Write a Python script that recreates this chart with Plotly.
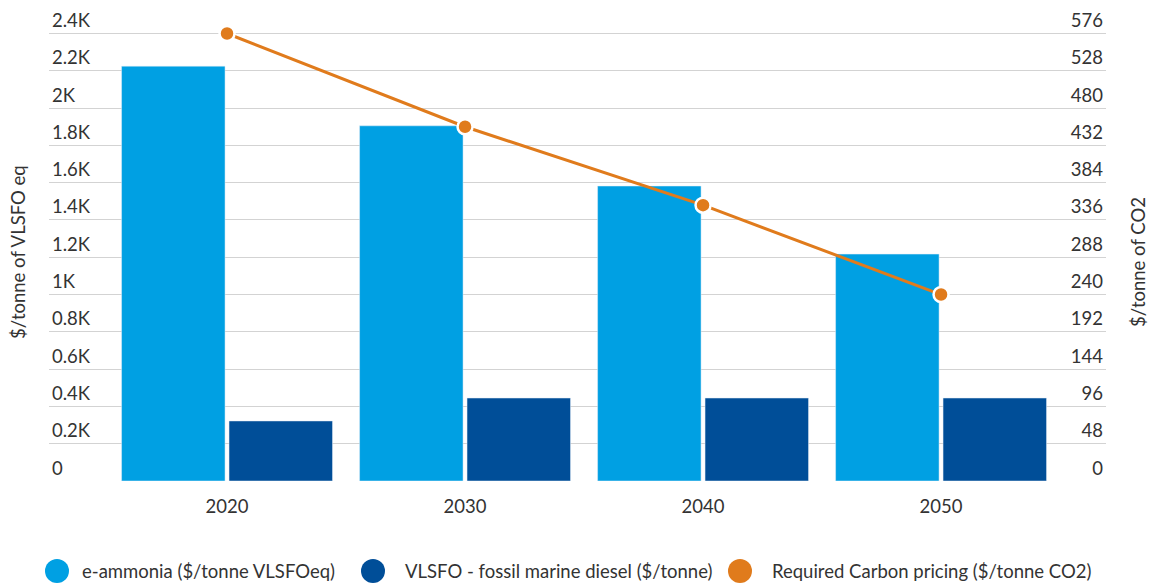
import plotly.graph_objects as go

years = ["2020", "2030", "2040", "2050"]
e_ammonia = [2225, 1905, 1582, 1217]
vlsfo = [322, 445, 445, 445]
carbon_price = [576, 456, 355, 240]

left_ticks = [0, 200, 400, 600, 800, 1000, 1200, 1400, 1600, 1800, 2000, 2200, 2400]
left_labels = ["0", "0.2K", "0.4K", "0.6K", "0.8K", "1K", "1.2K", "1.4K", "1.6K", "1.8K", "2K", "2.2K", "2.4K"]
right_ticks = [0, 48, 96, 144, 192, 240, 288, 336, 384, 432, 480, 528, 576]

names = ["e-ammonia ($/tonne VLSFOeq)", "VLSFO - fossil marine diesel ($/tonne)", "Required Carbon pricing ($/tonne CO2)"]
C_LIGHT = "#00A0E3"
C_DARK = "#004E98"
C_ORANGE = "#E07B1C"
TXT = "#333333"
FONT = "Lato"
FS = 18.5

# plot area geometry in pixels (top of plot area above the 2.4K gridline)
L, R, T, B = 49, 1106, 4, 481
Y_TOP_GRID = 33.5
W, H = R - L, B - T
scale = H / (B - Y_TOP_GRID)
y1_max = 2400 * scale
y2_max = 576 * scale

def px(x):
    return (x - L) / W

def py(y):
    return (B - y) / H

fig = go.Figure()
fig.add_trace(go.Bar(x=years, y=e_ammonia, name=names[0], marker_color=C_LIGHT, showlegend=False))
fig.add_trace(go.Bar(x=years, y=vlsfo, name=names[1], marker_color=C_DARK, showlegend=False))
fig.add_trace(go.Scatter(x=years, y=carbon_price, name=names[2], yaxis="y2", mode="lines+markers",
                         line=dict(color=C_ORANGE, width=3), cliponaxis=False,
                         marker=dict(size=15, color=C_ORANGE, line=dict(color="white", width=2.5)),
                         showlegend=False))

shapes = []
annotations = []
legend_items = [(57, 80, C_LIGHT, names[0]), (373, 403, C_DARK, names[1]), (740, 770, C_ORANGE, names[2])]
for cx, tx, col, nm in legend_items:
    r = 12
    shapes.append(dict(type="circle", xref="paper", yref="paper",
                       x0=px(cx - r), x1=px(cx + r), y0=py(571 + r), y1=py(571 - r),
                       fillcolor=col, line=dict(width=0)))
    annotations.append(dict(xref="paper", yref="paper", x=px(tx), y=py(571), text=nm,
                            showarrow=False, xanchor="left", yanchor="middle",
                            font=dict(family=FONT, size=FS, color=TXT)))

annotations.append(dict(xref="paper", yref="paper", x=px(18), y=py(252), text="$/tonne of VLSFO eq",
                        textangle=-90, showarrow=False, xanchor="center", yanchor="middle",
                        font=dict(family=FONT, size=FS, color=TXT)))
annotations.append(dict(xref="paper", yref="paper", x=px(1138), y=py(262), text="$/tonne of CO2",
                        textangle=-90, showarrow=False, xanchor="center", yanchor="middle",
                        font=dict(family=FONT, size=FS, color=TXT)))

fig.update_layout(
    width=1152, height=585,
    margin=dict(l=L, r=1152 - R, t=T, b=585 - B, autoexpand=False),
    paper_bgcolor="white", plot_bgcolor="white",
    barmode="group", bargap=0.097, bargroupgap=0.037,
    font=dict(family=FONT, size=FS, color=TXT),
    showlegend=False,
    xaxis=dict(type="category", range=[-0.748, 3.693], showgrid=False, zeroline=False, showline=False,
               ticks="", ticklabelstandoff=12, tickfont=dict(size=FS, color=TXT)),
    yaxis=dict(range=[0, y1_max], tickvals=left_ticks, ticktext=left_labels, showgrid=True,
               gridcolor="#D3D3D3", gridwidth=1.2, zeroline=False, showline=False,
               ticklabelposition="inside top", tickfont=dict(size=FS, color=TXT)),
    yaxis2=dict(range=[0, y2_max], tickvals=right_ticks, overlaying="y", side="right", showgrid=False,
                zeroline=False, showline=False, ticklabelposition="inside top",
                tickfont=dict(size=FS, color=TXT)),
    shapes=shapes,
    annotations=annotations,
)

fig.write_html("out.html")
